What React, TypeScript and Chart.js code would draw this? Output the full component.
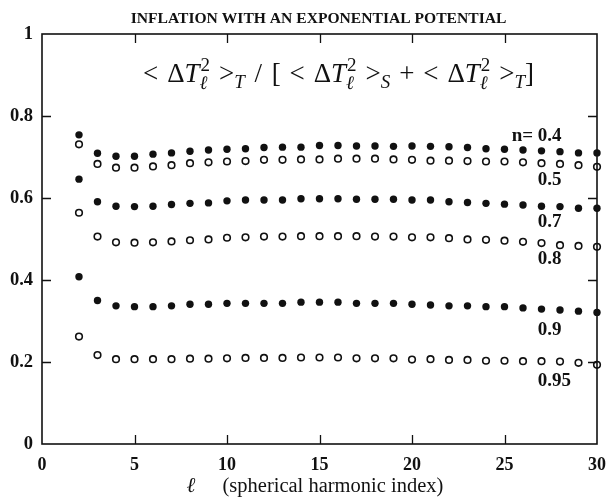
import React, { useEffect, useRef } from "react";
import { Chart, registerables } from "chart.js";

Chart.register(...registerables);

// ---------- data ----------
const ells = [2, 3, 4, 5, 6, 7, 8, 9, 10, 11, 12, 13, 14, 15, 16, 17, 18, 19, 20, 21, 22, 23, 24, 25, 26, 27, 28, 29, 30];

const n04 = [0.754, 0.709, 0.702, 0.702, 0.707, 0.710, 0.714, 0.717, 0.719, 0.720, 0.723, 0.724, 0.724, 0.728, 0.728, 0.727, 0.727, 0.726, 0.727, 0.726, 0.725, 0.723, 0.720, 0.719, 0.717, 0.715, 0.713, 0.710, 0.710];
const n05 = [0.731, 0.683, 0.674, 0.674, 0.677, 0.680, 0.685, 0.687, 0.689, 0.690, 0.693, 0.693, 0.694, 0.694, 0.696, 0.696, 0.696, 0.694, 0.693, 0.691, 0.691, 0.690, 0.689, 0.689, 0.687, 0.685, 0.683, 0.680, 0.676];
const n07 = [0.646, 0.591, 0.580, 0.579, 0.580, 0.584, 0.587, 0.588, 0.593, 0.595, 0.595, 0.595, 0.598, 0.598, 0.598, 0.597, 0.597, 0.597, 0.595, 0.595, 0.591, 0.589, 0.587, 0.585, 0.583, 0.580, 0.579, 0.575, 0.575];
const n08 = [0.564, 0.506, 0.492, 0.491, 0.492, 0.494, 0.497, 0.499, 0.503, 0.504, 0.506, 0.506, 0.507, 0.507, 0.507, 0.507, 0.506, 0.506, 0.504, 0.504, 0.502, 0.499, 0.498, 0.496, 0.493, 0.490, 0.485, 0.483, 0.481];
const n09 = [0.408, 0.350, 0.337, 0.335, 0.335, 0.337, 0.341, 0.341, 0.343, 0.343, 0.343, 0.343, 0.346, 0.346, 0.346, 0.343, 0.343, 0.343, 0.341, 0.339, 0.337, 0.337, 0.335, 0.335, 0.332, 0.329, 0.327, 0.324, 0.321];
const n095 = [0.262, 0.217, 0.207, 0.207, 0.207, 0.207, 0.208, 0.208, 0.209, 0.210, 0.210, 0.210, 0.211, 0.211, 0.211, 0.209, 0.209, 0.209, 0.206, 0.207, 0.205, 0.205, 0.203, 0.203, 0.202, 0.202, 0.201, 0.198, 0.193];

const seriesValues = [n04, n05, n07, n08, n09, n095];
const seriesLabels = ["0.4", "0.5", "0.7", "0.8", "0.9", "0.95"];
const seriesFilled = [true, false, true, false, true, false];
const labelPrefix = "n= ";

const xTicks = [0, 5, 10, 15, 20, 25, 30];
const yTicks = [0, 0.2, 0.4, 0.6, 0.8, 1];

const titleText = "INFLATION WITH AN EXPONENTIAL POTENTIAL";
const xTitleSymbol = "\u2113";
const xTitleText = "(spherical harmonic index)";

const SERIF = '"Liberation Serif", "Times New Roman", serif';
const INK = "#111";

// label placement (pixel offsets from the series value at ℓ = 28)
const labelOffsets = [-16, 16, 15, 14, 20, 20];

type Tok =
  | { k: "t"; t: string; it?: boolean; small?: boolean; dy?: number }
  | { k: "gap"; em: number }
  | { k: "stack"; sup: string; sub: string };

function drawFormula(ctx: CanvasRenderingContext2D, cx: number, baseY: number, size: number) {
  const rm = `${size}px ${SERIF}`;
  const it = `italic ${size}px ${SERIF}`;
  const sm = `${Math.round(size * 0.7)}px ${SERIF}`;
  const smit = `italic ${Math.round(size * 0.7)}px ${SERIF}`;
  const term = (sub: string): Tok[] => [
    { k: "t", t: "<" },
    { k: "gap", em: 0.33 },
    { k: "t", t: "\u0394" },
    { k: "t", t: "T", it: true },
    { k: "stack", sup: "2", sub: "\u2113" },
    { k: "gap", em: 0.33 },
    { k: "t", t: ">" },
    { k: "t", t: sub, it: true, small: true, dy: 0.22 },
  ];
  const toks: Tok[] = [
    ...term("T"),
    { k: "gap", em: 0.36 },
    { k: "t", t: "/" },
    { k: "gap", em: 0.36 },
    { k: "t", t: "[" },
    { k: "gap", em: 0.33 },
    ...term("S"),
    { k: "gap", em: 0.33 },
    { k: "t", t: "+" },
    { k: "gap", em: 0.33 },
    ...term("T"),
    { k: "t", t: "]" },
  ];
  const widthOf = (tk: Tok): number => {
    if (tk.k === "gap") return tk.em * size;
    if (tk.k === "stack") {
      ctx.font = sm;
      const a = ctx.measureText(tk.sup).width;
      ctx.font = smit;
      const b = ctx.measureText(tk.sub).width;
      return Math.max(a, b) + 1;
    }
    ctx.font = tk.small ? (tk.it ? smit : sm) : tk.it ? it : rm;
    return ctx.measureText(tk.t).width;
  };
  const total = toks.reduce((s, tk) => s + widthOf(tk), 0);
  let x = cx - total / 2;
  ctx.textBaseline = "alphabetic";
  ctx.textAlign = "left";
  for (const tk of toks) {
    const w = widthOf(tk);
    if (tk.k === "t") {
      ctx.font = tk.small ? (tk.it ? smit : sm) : tk.it ? it : rm;
      ctx.fillText(tk.t, x, baseY + (tk.dy || 0) * size);
    } else if (tk.k === "stack") {
      ctx.font = sm;
      ctx.fillText(tk.sup, x + 1, baseY - 0.42 * size);
      ctx.font = smit;
      ctx.fillText(tk.sub, x, baseY + 0.25 * size);
    }
    x += w;
  }
}

const framePlugin = {
  id: "frameAndText",
  beforeDatasetsDraw(chart: any) {
    const { ctx, chartArea, scales } = chart;
    const { left, right, top, bottom } = chartArea;
    const xs = scales.x;
    const ys = scales.y;
    ctx.save();
    ctx.strokeStyle = INK;
    ctx.lineWidth = 1.6;
    ctx.strokeRect(left, top, right - left, bottom - top);
    ctx.lineWidth = 1.3;
    const tl = 9;
    ctx.beginPath();
    for (const v of xTicks.slice(1, -1)) {
      const px = Math.round(xs.getPixelForValue(v)) + 0.5;
      ctx.moveTo(px, top);
      ctx.lineTo(px, top + tl);
      ctx.moveTo(px, bottom);
      ctx.lineTo(px, bottom - tl);
    }
    for (const v of yTicks.slice(1, -1)) {
      const py = Math.round(ys.getPixelForValue(v)) + 0.5;
      ctx.moveTo(left, py);
      ctx.lineTo(left + tl, py);
      ctx.moveTo(right, py);
      ctx.lineTo(right - tl, py);
    }
    ctx.stroke();
    ctx.restore();
  },
  afterDraw(chart: any) {
    const { ctx, chartArea, scales } = chart;
    const { left, right, top, bottom } = chartArea;
    const xs = scales.x;
    const ys = scales.y;
    const cx = (left + right) / 2;
    ctx.save();
    ctx.fillStyle = INK;
    // title
    ctx.font = `bold 15.6px ${SERIF}`;
    ctx.textAlign = "center";
    ctx.textBaseline = "alphabetic";
    ctx.fillText(titleText, cx - 1, 23);
    // formula inside plot
    drawFormula(ctx, cx + 19, top + 48, 27);
    // series labels
    const lx = xs.getPixelForValue(26.8);
    const idx28 = ells.indexOf(28);
    seriesLabels.forEach((lab, i) => {
      const py = ys.getPixelForValue(seriesValues[i][idx28]) + labelOffsets[i];
      ctx.font = `bold 19px ${SERIF}`;
      ctx.textBaseline = "middle";
      ctx.textAlign = "left";
      ctx.fillText(lab, lx, py);
      if (i === 0) {
        ctx.textAlign = "right";
        ctx.fillText(labelPrefix, lx, py);
      }
    });
    // x axis title
    ctx.textBaseline = "alphabetic";
    ctx.textAlign = "left";
    ctx.font = `italic 21px ${SERIF}`;
    ctx.fillText(xTitleSymbol, cx - 133, bottom + 48);
    ctx.font = `20.5px ${SERIF}`;
    ctx.fillText(xTitleText, cx - 97, bottom + 48);
    ctx.restore();
  },
};

export default function App() {
  const ref = useRef<HTMLCanvasElement | null>(null);
  useEffect(() => {
    if (!ref.current) return;
    const datasets = seriesValues.map((vals, i) => ({
      label: seriesLabels[i],
      data: ells.map((l, j) => ({ x: l, y: vals[j] })),
      showLine: false,
      pointRadius: seriesFilled[i] ? 3.7 : 3.3,
      pointHoverRadius: 3.7,
      pointBackgroundColor: seriesFilled[i] ? INK : "rgba(0,0,0,0)",
      pointBorderColor: INK,
      pointBorderWidth: seriesFilled[i] ? 0 : 1.6,
      clip: false as any,
    }));
    const chart = new Chart(ref.current, {
      type: "scatter",
      data: { datasets },
      plugins: [framePlugin],
      options: {
        animation: false,
        responsive: false,
        layout: { padding: { top: 34, right: 9, left: 0, bottom: 0 } },
        plugins: { legend: { display: false }, tooltip: { enabled: false }, title: { display: false } },
        scales: {
          x: {
            type: "linear",
            min: 0,
            max: 30,
            afterBuildTicks: (s: any) => {
              s.ticks = xTicks.map((v) => ({ value: v }));
            },
            ticks: {
              color: INK,
              padding: 11,
              maxRotation: 0,
              font: { family: SERIF, size: 18, weight: "bold" },
              callback: (v: any) => `${v}`,
            },
            grid: { display: false, drawTicks: false },
            border: { display: false },
            afterFit: (s: any) => {
              s.height = 53;
              s.paddingLeft = 0;
              s.paddingRight = 0;
            },
          },
          y: {
            type: "linear",
            min: 0,
            max: 1,
            afterBuildTicks: (s: any) => {
              s.ticks = yTicks.map((v) => ({ value: v }));
            },
            ticks: {
              color: INK,
              padding: 9,
              font: { family: SERIF, size: 18.5, weight: "bold" },
              callback: (v: any) => `${v}`,
            },
            grid: { display: false, drawTicks: false },
            border: { display: false },
            afterFit: (s: any) => {
              s.width = 42;
              s.paddingTop = 0;
              s.paddingBottom = 0;
            },
          },
        },
      },
    });
    return () => chart.destroy();
  }, []);
  return (
    <div style={{ position: "absolute", left: 0, top: 0, width: 606, height: 497, background: "#fff" }}>
      <canvas ref={ref} width={606} height={497} style={{ display: "block" }} />
    </div>
  );
}
